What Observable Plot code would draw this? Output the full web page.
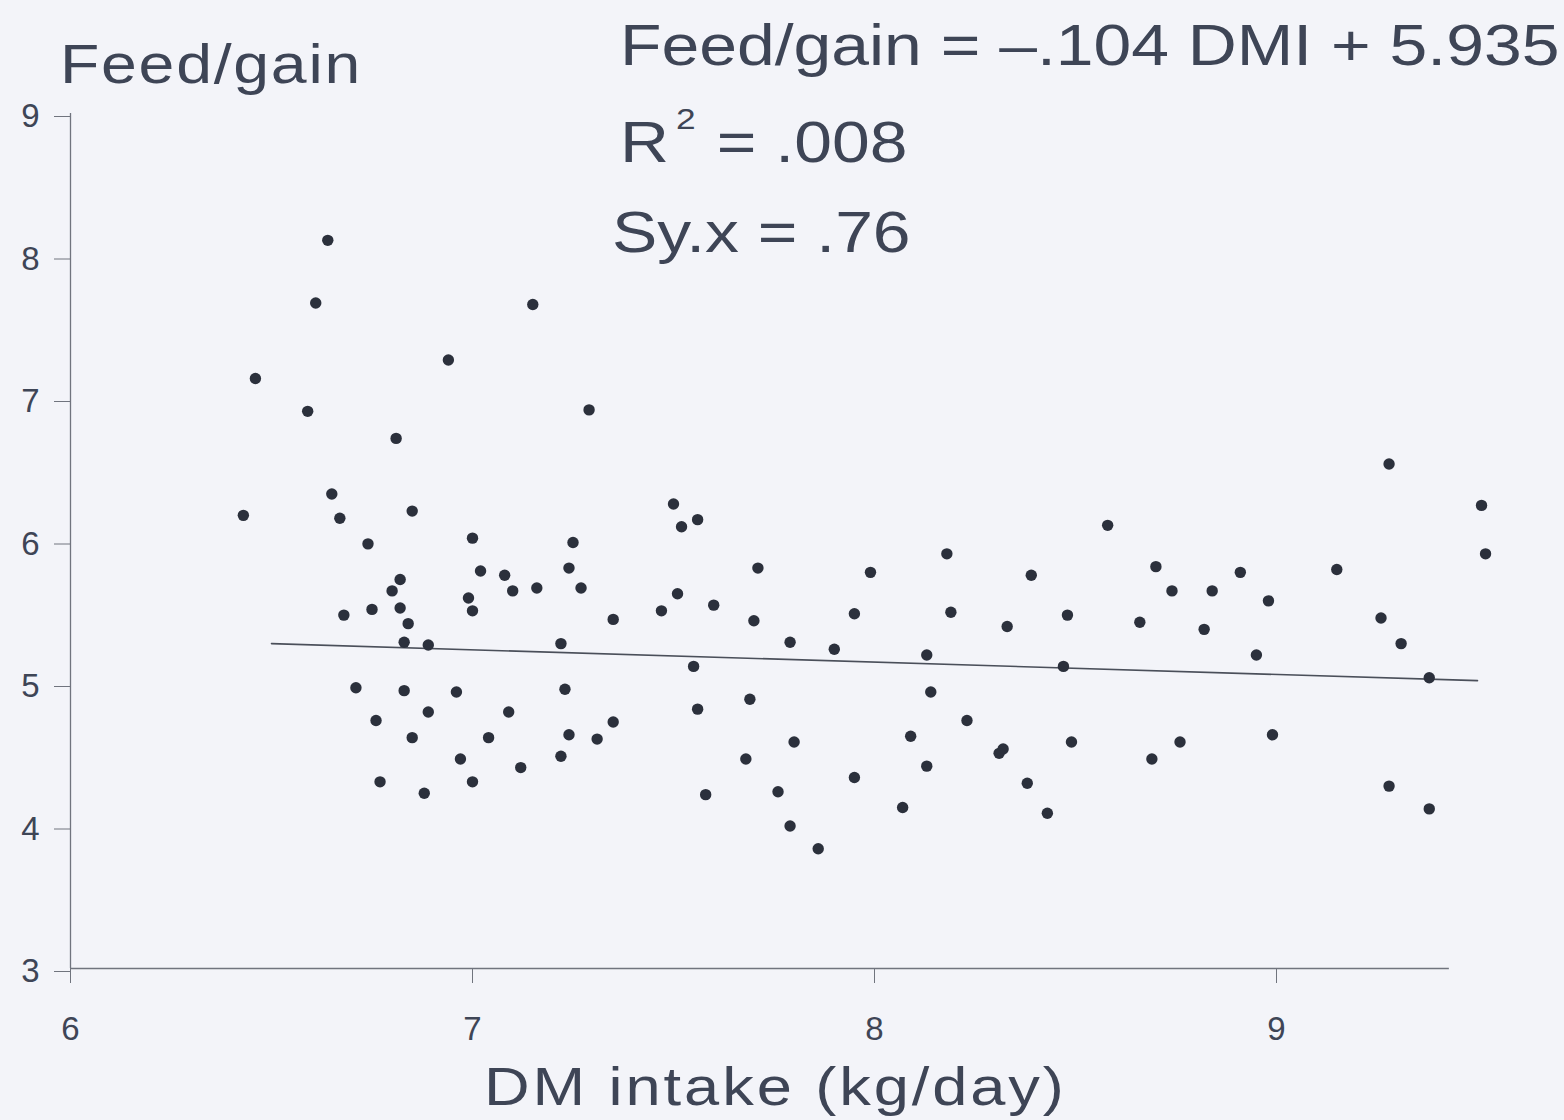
<!DOCTYPE html>
<html>
<head>
<meta charset="utf-8">
<script src="https://cdn.jsdelivr.net/npm/d3@7"></script>
<script src="https://cdn.jsdelivr.net/npm/@observablehq/plot@0.6"></script>
<style>
  html, body { margin: 0; padding: 0; background: #f3f4f9; }
  #wrap { position: relative; width: 1564px; height: 1120px; overflow: hidden; background: #f3f4f9; }
  #chart { position: absolute; left: 0; top: 0; }
  #chart svg text { font-size: 33px !important; }
  .lbl { position: absolute; font-family: "Liberation Sans", Arial, sans-serif; color: #3e4556;
         line-height: 1; white-space: nowrap; transform: scaleX(1.17); transform-origin: left top; }
  .sup { font-size: 0.52em; position: relative; top: -33px; margin-left: 6px; margin-right: 2px; }
</style>
</head>
<body>
<div id="wrap">
  <div id="chart"></div>
  <div class="lbl" style="left:60px; top:37px; font-size:55px; letter-spacing:1.5px;">Feed/gain</div>
  <div class="lbl" style="left:620px; top:16px; font-size:58px;">Feed/gain = –.104 DMI + 5.935</div>
  <div class="lbl" style="left:620px; top:113px; font-size:58px;">R<span class="sup">2</span> = .008</div>
  <div class="lbl" style="left:612px; top:203px; font-size:58px;">Sy.x = .76</div>
  <div class="lbl" style="left:484px; top:1059px; font-size:54px; letter-spacing:2.5px;">DM intake (kg/day)</div>
</div>
<script>
// Dry-matter intake (kg/day) of each animal
const dmi = [
  6.43, 6.46, 6.59, 6.61, 6.64, 6.65, 6.67, 6.68, 6.71, 6.74,
  6.75, 6.76, 6.77, 6.80, 6.81, 6.82, 6.82, 6.83, 6.83, 6.84,
  6.85, 6.85, 6.88, 6.89, 6.89, 6.94, 6.96, 6.97, 6.99, 7.00,
  7.00, 7.00, 7.02, 7.04, 7.08, 7.09, 7.10, 7.12, 7.15, 7.16,
  7.22, 7.22, 7.23, 7.24, 7.24, 7.25, 7.27, 7.29, 7.31, 7.35,
  7.35,
  7.50, 7.52, 7.56, 7.71, 7.99, 8.18, 8.39, 7.51, 7.47, 7.60,
  7.70, 7.95, 8.19, 8.48, 8.33, 7.79, 7.90, 8.13, 8.47, 7.55,
  8.14, 7.69, 7.56, 8.23, 8.09, 7.80, 8.49, 8.32, 8.31, 7.68,
  8.13, 7.95, 8.38, 7.76, 7.58, 8.07, 8.43, 7.79, 7.86,
  9.28, 9.51, 8.58, 9.52, 8.70, 8.91, 9.15, 8.74, 8.84, 8.98,
  8.66, 8.82, 9.26, 9.31, 8.95, 9.38, 8.76, 8.69, 8.99, 9.28,
  9.38
];
// Feed/gain of each animal (same order)
const feedGain = [
  6.18, 7.14, 6.91, 7.67, 8.11, 6.33, 6.16, 5.48, 4.97, 5.98,
  5.52, 4.74, 4.31, 5.65, 6.72, 5.53, 5.73, 4.95, 5.29, 5.42,
  6.21, 4.62, 4.23, 4.80, 5.27, 7.27, 4.94, 4.47, 5.60, 5.51,
  4.31, 6.02, 5.79, 4.62, 5.76, 4.80, 5.65, 4.41, 7.66, 5.67,
  5.28, 4.49, 4.96, 4.64, 5.81, 5.99, 5.67, 6.92, 4.61, 5.45,
  4.73,
  6.26, 6.10, 6.15, 5.81, 5.78, 5.91, 5.76, 5.63, 5.51, 5.55,
  5.44, 5.49, 5.50, 5.48, 5.40, 5.29, 5.24, 5.20, 5.12, 5.12,
  4.94, 4.89, 4.82, 4.74, 4.63, 4.59, 4.59, 4.54, 4.51, 4.47,
  4.42, 4.34, 4.30, 4.24, 4.22, 4.13, 4.09, 4.00, 3.84,
  6.54, 6.25, 6.11, 5.91, 5.82, 5.78, 5.80, 5.65, 5.65, 5.58,
  5.43, 5.38, 5.46, 5.28, 5.20, 5.04, 4.59, 4.47, 4.64, 4.28,
  4.12
];
// Fitted regression line as drawn (end points)
const fitX = [6.50, 9.50];
const fitY = [5.28, 5.02];
// Axis ticks
const xTicks = [6, 7, 8, 9];
const yTicks = [3, 4, 5, 6, 7, 8, 9];

const points = dmi.map((x, i) => ({x, y: feedGain[i]}));
const fit = fitX.map((x, i) => ({x, y: fitY[i]}));

const ink = "#3e4556";
const axisInk = "#70747e";

const chart = Plot.plot({
  width: 1564,
  height: 1120,
  marginLeft: 70,
  marginRight: 87,
  marginTop: 113,
  marginBottom: 152,
  style: {background: "transparent", fontFamily: "Liberation Sans, Arial, sans-serif", fontSize: "33px", color: ink},
  x: {domain: [6, 9.5]},
  y: {domain: [3, 9]},
  marks: [
    Plot.ruleY([3], {x1: 6, x2: 9.43, stroke: axisInk, strokeWidth: 1.3}),
    Plot.ruleX([6], {y1: 3, y2: 9, stroke: axisInk, strokeWidth: 1.3}),
    Plot.axisY({ticks: yTicks, tickFormat: d => String(d), tickSize: 16, tickPadding: 15, label: null, stroke: axisInk, fill: ink, fontSize: 33, dy: 3}),
    Plot.axisX({ticks: xTicks, tickFormat: d => String(d), tickSize: 15, tickPadding: 33, label: null, stroke: axisInk, fill: ink, fontSize: 33}),
    Plot.line(fit, {x: "x", y: "y", stroke: "#4a4f5a", strokeWidth: 1.6}),
    Plot.dot(points, {x: "x", y: "y", r: 5.7, fill: "#2b303c", stroke: "none"})
  ]
});
document.getElementById("chart").appendChild(chart);
</script>
</body>
</html>
